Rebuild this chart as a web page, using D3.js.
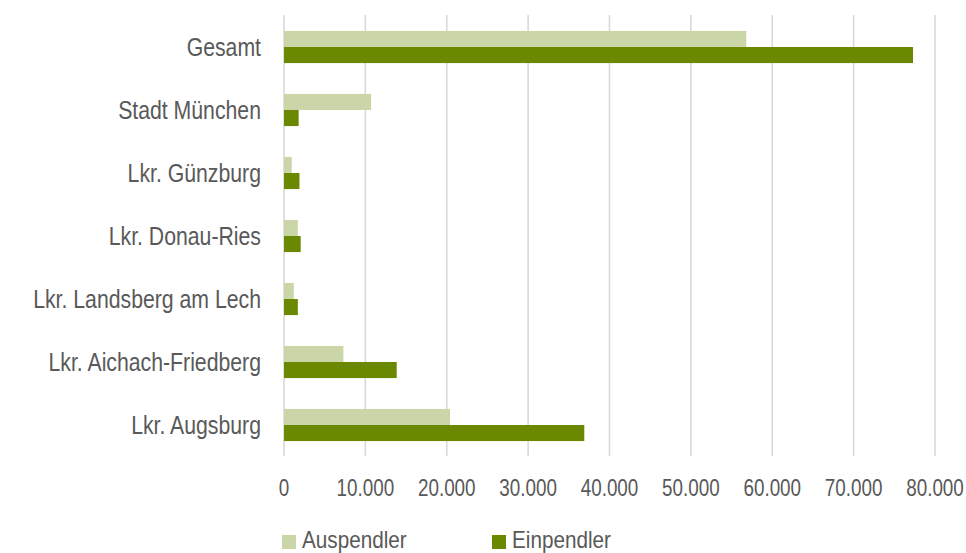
<!DOCTYPE html>
<html>
<head>
<meta charset="utf-8">
<script src="https://cdn.jsdelivr.net/npm/d3@7"></script>
<style>
  html, body { margin: 0; padding: 0; background: #fff; }
  svg text { font-family: "Liberation Sans", Arial, sans-serif; fill: #595959; }
</style>
</head>
<body>
<svg id="chart" width="966" height="553"></svg>
<script>
// Pendlerbeziehungen nach Kreisen
const categories = ["Gesamt", "Stadt München", "Lkr. Günzburg", "Lkr. Donau-Ries",
  "Lkr. Landsberg am Lech", "Lkr. Aichach-Friedberg", "Lkr. Augsburg"];
const auspendler = [56800, 10700, 950, 1700, 1200, 7300, 20400];
const einpendler = [77300, 1800, 1900, 2050, 1700, 13850, 36900];
const seriesNames = ["Auspendler", "Einpendler"];
const tickValues = [0, 10000, 20000, 30000, 40000, 50000, 60000, 70000, 80000];

const colors = { Auspendler: "#cad5a8", Einpendler: "#6b8900" };
// horizontal squeeze for a condensed look
const narrowTicks = 0.82;
const narrowLabels = 0.85;
const narrowLegend = 0.9;

const svg = d3.select("#chart");

const x = d3.scaleLinear().domain([0, 80000]).range([284, 935]);
const y = d3.scaleBand().domain(categories).range([15.5, 456.5]).paddingInner(0.49).paddingOuter(0.245);
const sub = d3.scaleBand().domain(seriesNames).range([0, y.bandwidth()]);

const fmt = v => d3.format(",")(v).replace(/,/g, ".");

// vertical gridlines
svg.append("g").selectAll("line").data(tickValues).join("line")
  .attr("x1", d => x(d)).attr("x2", d => x(d))
  .attr("y1", 15).attr("y2", 456)
  .attr("stroke", "#d9d9d9").attr("stroke-width", 1.6);

// tick labels
svg.append("g").selectAll("text").data(tickValues).join("text")
  .attr("transform", d => `translate(${x(d)},496) scale(${narrowTicks},1)`)
  .attr("text-anchor", "middle")
  .style("font-size", "23px")
  .text(d => fmt(d));

// bars
const rows = categories.map((c, i) => ({ cat: c, values: [
  { s: "Auspendler", v: auspendler[i] },
  { s: "Einpendler", v: einpendler[i] }
]}));

const groups = svg.append("g").selectAll("g").data(rows).join("g")
  .attr("transform", d => `translate(0,${y(d.cat)})`);

groups.selectAll("rect").data(d => d.values).join("rect")
  .attr("x", x(0))
  .attr("y", d => sub(d.s))
  .attr("width", d => x(d.v) - x(0))
  .attr("height", sub.bandwidth())
  .attr("fill", d => colors[d.s]);

// category labels
svg.append("g").selectAll("text").data(categories).join("text")
  .attr("transform", d => `translate(261,${y(d) + y.bandwidth() / 2}) scale(${narrowLabels},1)`)
  .attr("dy", "0.35em")
  .attr("text-anchor", "end")
  .style("font-size", "25px")
  .text(d => d);

// legend
const legendX = [282, 492];
const legend = svg.append("g").selectAll("g").data(seriesNames).join("g")
  .attr("transform", (d, i) => `translate(${legendX[i]},535)`);
legend.append("rect").attr("width", 14).attr("height", 14).attr("fill", d => colors[d]);
legend.append("text")
  .attr("transform", `translate(20,13) scale(${narrowLegend},1)`)
  .style("font-size", "23px")
  .text(d => d);
</script>
</body>
</html>
